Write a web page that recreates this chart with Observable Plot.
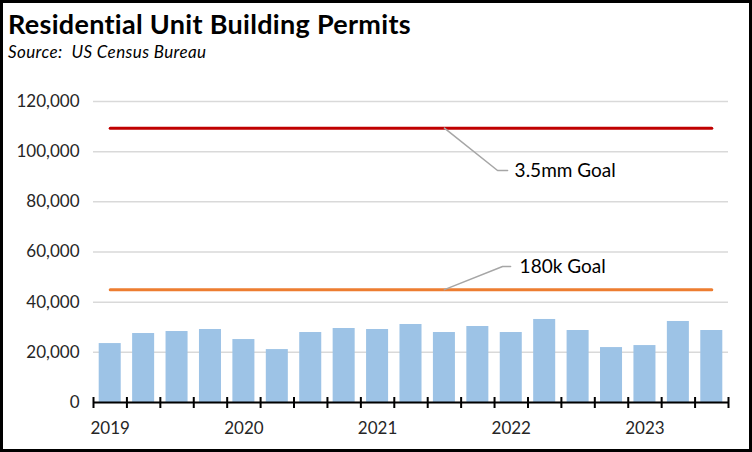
<!DOCTYPE html>
<html>
<head>
<meta charset="utf-8">
<script src="https://cdn.jsdelivr.net/npm/d3@7"></script>
<script src="https://cdn.jsdelivr.net/npm/@observablehq/plot@0.6"></script>
<style>
  html, body { margin: 0; padding: 0; background: white; }
  #chart { position: relative; width: 752px; height: 452px; box-sizing: border-box; border: 3px solid black; background: white; font-family: Lato, sans-serif; }
  #title { position: absolute; left: 5px; top: 7px; font-size: 27px; line-height: 27px; font-weight: bold; letter-spacing: 0.3px; color: #000; white-space: nowrap; }
  #subtitle { position: absolute; left: 5px; top: 40px; font-size: 17px; line-height: 17px; font-style: italic; letter-spacing: 0.4px; color: #000; white-space: nowrap; }
  #plot { position: absolute; left: 0; top: 62px; }
</style>
</head>
<body>
<div id="chart">
  <div id="title">Residential Unit Building Permits</div>
  <div id="subtitle">Source:&nbsp; US Census Bureau</div>
  <div id="plot"></div>
</div>
<script>
const years = [2019, 2020, 2021, 2022, 2023];
const quarters = ["2019 Q1","2019 Q2","2019 Q3","2019 Q4","2020 Q1","2020 Q2","2020 Q3","2020 Q4","2021 Q1","2021 Q2","2021 Q3","2021 Q4","2022 Q1","2022 Q2","2022 Q3","2022 Q4","2023 Q1","2023 Q2","2023 Q3"];
const permits = [23500, 27500, 28300, 29100, 25100, 21100, 27900, 29500, 29100, 31100, 27900, 30300, 27900, 33100, 28700, 21900, 22700, 32300, 28700];
const goal35mm = 109375;
const goal180k = 45000;
const yTicks = [0, 20000, 40000, 60000, 80000, 100000, 120000];
const annotationLabels = ["3.5mm Goal", "180k Goal"];
// leader lines: [start on goal line, elbow, end] in (quarter index, value)
const leaderX = [[10.5, 12.09, 12.39], [10.5, 12.24, 12.48]];
const leaderY = [[goal35mm, 92500, 92500], [goal180k, 54200, 54200]];
const labelX = [12.6, 12.75];

const data = quarters.map((q, i) => ({q, i, v: permits[i]}));
const leaders = annotationLabels.flatMap((name, k) => leaderX[k].map((x, j) => ({name, x, y: leaderY[k][j]})));
const labels = annotationLabels.map((name, k) => ({name, x: labelX[k], y: leaderY[k][2]}));

const plot = Plot.plot({
  width: 746,
  height: 384,
  marginLeft: 90,
  marginRight: 21,
  marginTop: 36,
  marginBottom: 47,
  style: {fontFamily: "Lato, sans-serif", fontSize: "17px", color: "#262626", background: "white"},
  x: {type: "linear", domain: [0, quarters.length]},
  y: {domain: [0, 120000]},
  marks: [
    Plot.gridY({ticks: yTicks, stroke: "#D9D9D9", strokeOpacity: 1, strokeWidth: 1.5}),
    Plot.axisY({ticks: yTicks, tickSize: 0, tickPadding: 14, tickFormat: d3.format(","), fontSize: 17}),
    Plot.rectY(data, {x: "i", interval: 1, y: "v", fill: "#9DC3E6", insetLeft: 5.7, insetRight: 5.7}),
    Plot.line(data, {x: d => d.i + 0.5, y: () => goal35mm, stroke: "#C00000", strokeWidth: 3}),
    Plot.line(data, {x: d => d.i + 0.5, y: () => goal180k, stroke: "#ED7D31", strokeWidth: 3}),
    Plot.line(leaders, {x: "x", y: "y", z: "name", stroke: "#A6A6A6", strokeWidth: 1.5}),
    Plot.text(labels, {x: "x", y: "y", text: "name", textAnchor: "start", fontSize: 19, fill: "#000"}),
    Plot.ruleY([0], {stroke: "#000", strokeWidth: 2}),
    Plot.axisX({ticks: d3.range(quarters.length + 1), tickSize: 11, dy: -5, tickFormat: () => "", stroke: "#000", strokeWidth: 2}),
    Plot.axisX({ticks: years.map((y, k) => k * 4 + 0.5), tickSize: 0, tickPadding: 19, tickFormat: v => String(years[Math.round((v - 0.5) / 4)]), fontSize: 17})
  ]
});
document.getElementById("plot").appendChild(plot);
</script>
</body>
</html>
